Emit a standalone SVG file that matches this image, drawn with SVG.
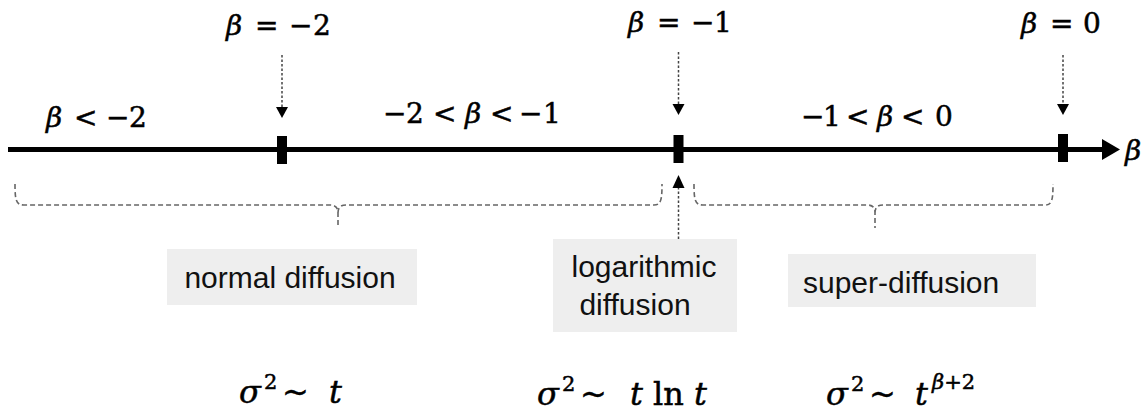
<svg xmlns="http://www.w3.org/2000/svg" width="1148" height="414" viewBox="0 0 1148 414">
<style>
.m{font-family:"DejaVu Serif","Liberation Serif",serif;font-size:28px;fill:#000;stroke:#000;stroke-width:0.5}
.f{font-family:"DejaVu Serif","Liberation Serif",serif;font-size:32px;fill:#000;stroke:#000;stroke-width:0.5}
.sup{font-size:21px}
.i{font-style:italic}
.lbl{font-family:"Liberation Sans",Arial,sans-serif;font-size:30px;fill:#111}
.box{fill:#eeeeee}
.dot{stroke:#444;stroke-width:1.5;stroke-dasharray:2.5 2;fill:none}
.brace{stroke:#666;stroke-width:1.6;stroke-dasharray:5 3;fill:none}
.tick{fill:#000}
</style>
<rect width="1148" height="414" fill="#fff"/>
<g id="axis">
<line x1="8" y1="149.5" x2="1104" y2="149.5" stroke="#000" stroke-width="5"/>
<polygon points="1102,139 1120,149.5 1102,160" fill="#000"/>
<text class="m i" x="1125" y="160">β</text>
</g>
<g id="tick-m2"><rect class="tick" x="277" y="136" width="10" height="28"/></g>
<g id="tick-m1"><rect class="tick" x="673.5" y="135" width="10" height="28"/></g>
<g id="tick-0"><rect class="tick" x="1058" y="134" width="10" height="28"/></g>
<g id="label-beq-2"><text class="m" y="35"><tspan class="i" x="226">β</tspan> <tspan x="255">=</tspan> <tspan x="289">−</tspan><tspan x="313">2</tspan></text></g>
<g id="label-blt-2"><text class="m" y="127"><tspan class="i" x="46">β</tspan> <tspan x="74">&lt;</tspan> <tspan x="106">−</tspan><tspan x="129">2</tspan></text></g>
<g id="label-range-2-1"><text class="m" y="123"><tspan x="383">−</tspan><tspan x="406">2</tspan> <tspan x="433">&lt;</tspan> <tspan class="i" x="465">β</tspan> <tspan x="490">&lt;</tspan> <tspan x="519">−</tspan><tspan x="543">1</tspan></text></g>
<g id="label-beq-1"><text class="m" y="32"><tspan class="i" x="628">β</tspan> <tspan x="657">=</tspan> <tspan x="691">−</tspan><tspan x="714">1</tspan></text></g>
<g id="label-range-1-0"><text class="m" y="126"><tspan x="801">−</tspan><tspan x="823">1</tspan> <tspan x="846">&lt;</tspan> <tspan class="i" x="877">β</tspan> <tspan x="901">&lt;</tspan> <tspan x="935">0</tspan></text></g>
<g id="label-beq0"><text class="m" y="33"><tspan class="i" x="1021">β</tspan> <tspan x="1050">=</tspan> <tspan x="1083">0</tspan></text></g>
<g id="connectors">
<line class="dot" x1="282" y1="55" x2="282" y2="108"/>
<polygon points="276,107 288,107 282,118" fill="#000"/>
<line class="dot" x1="678.5" y1="52" x2="678.5" y2="105"/>
<polygon points="672.5,104 684.5,104 678.5,115" fill="#000"/>
<line class="dot" x1="1063" y1="55" x2="1063" y2="105"/>
<polygon points="1057,104 1069,104 1063,115" fill="#000"/>
<line class="dot" x1="678.5" y1="187" x2="678.5" y2="239"/>
<polygon points="672.5,188 684.5,188 678.5,175" fill="#000"/>
<path class="brace" d="M15,184 C15,200 16,205 24,205 L330,205 C335,205 338,207 338,213 L338,228 M338,213 C338,207 341,205 346,205 L654,205 C661,205 662,200 662,184"/>
<path class="brace" d="M694,184 C694,200 695,205 703,205 L867,205 C872,205 875,207 875,213 L875,228 M875,213 C875,207 878,205 883,205 L1045,205 C1052,205 1053,200 1053,184"/>
</g>
<g id="box-normal">
<rect class="box" x="167" y="249" width="250" height="56"/>
<text class="lbl" x="290" y="288" text-anchor="middle">normal diffusion</text>
</g>
<g id="box-log">
<rect class="box" x="553" y="239" width="184" height="93"/>
<text class="lbl" x="644" y="277" text-anchor="middle">logarithmic</text>
<text class="lbl" x="635" y="315" text-anchor="middle">diffusion</text>
</g>
<g id="box-super">
<rect class="box" x="788" y="254" width="248" height="53"/>
<text class="lbl" x="803" y="293">super-diffusion</text>
</g>
<g id="formula-normal"><text class="f" y="403"><tspan class="i" x="239">σ</tspan><tspan class="sup" x="264" dy="-14">2</tspan><tspan x="282" dy="14">~</tspan> <tspan class="i" x="329">t</tspan></text></g>
<g id="formula-log"><text class="f" y="405"><tspan class="i" x="537">σ</tspan><tspan class="sup" x="562" dy="-14">2</tspan><tspan x="580" dy="14">~</tspan> <tspan class="i" x="630">t</tspan> <tspan x="653">ln</tspan> <tspan class="i" x="694">t</tspan></text></g>
<g id="formula-super"><text class="f" y="405"><tspan class="i" x="826">σ</tspan><tspan class="sup" x="851" dy="-14">2</tspan><tspan x="869" dy="14">~</tspan> <tspan class="i" x="915">t</tspan><tspan class="sup" x="932" dy="-16"><tspan class="i">β</tspan>+2</tspan></text></g>
</svg>
